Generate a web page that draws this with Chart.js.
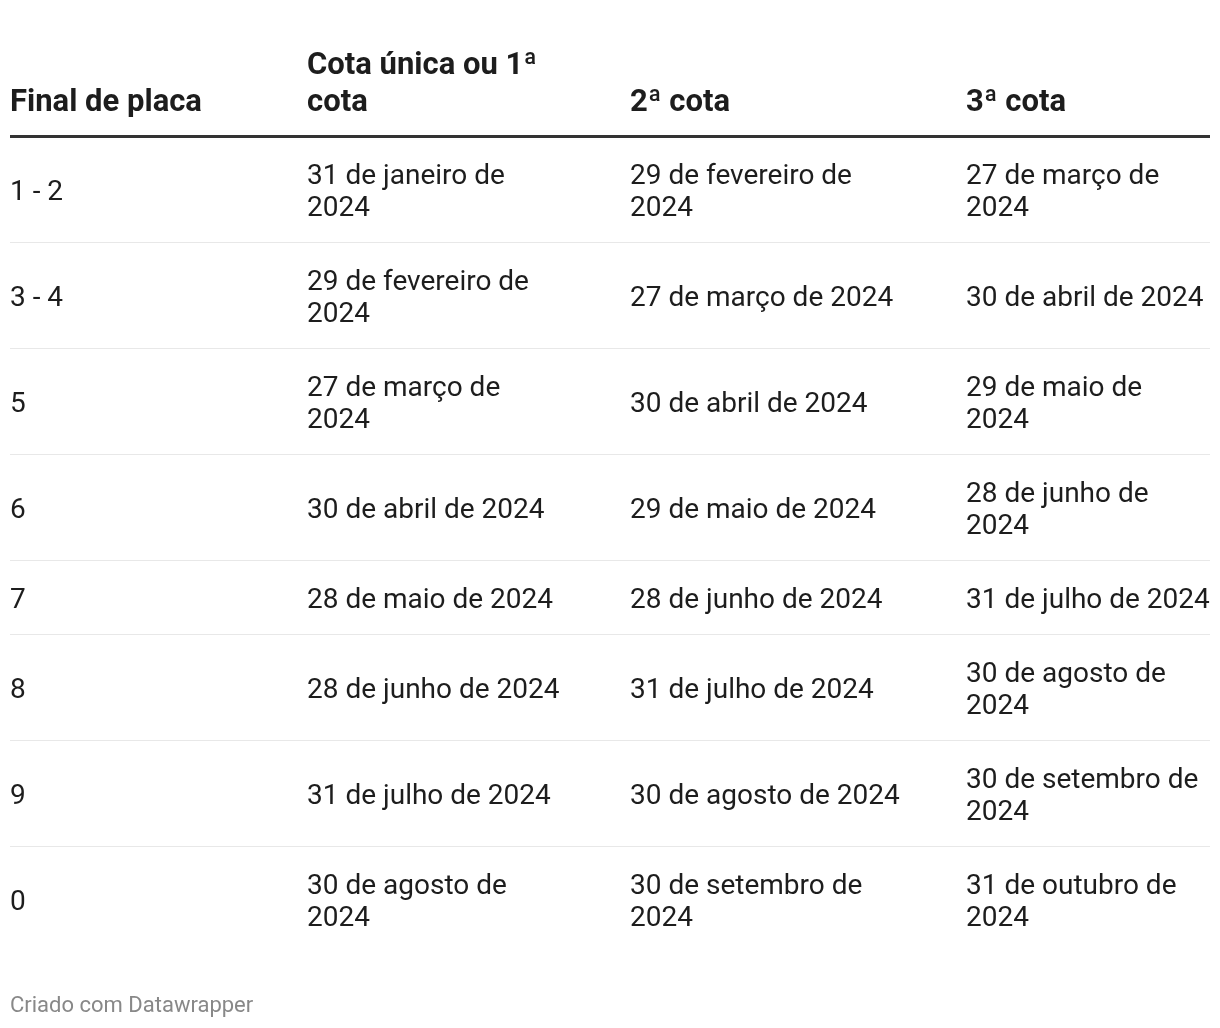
<!DOCTYPE html>
<html><head><meta charset="utf-8">
<script src="https://cdn.jsdelivr.net/npm/chart.js@4"></script>
<style>html,body{margin:0;padding:0;background:#fff}#wrap{width:1220px;height:1028px;position:relative}canvas{display:block}</style>
</head><body><div id="wrap"><canvas id="c" width="1220" height="1028"></canvas></div>
<script>
// ---- data ----
const headers = ["Final de placa", "Cota única ou 1ª cota", "2ª cota", "3ª cota"];
const placas = ["1 - 2", "3 - 4", "5", "6", "7", "8", "9", "0"];
const cota1 = ["31 de janeiro de 2024", "29 de fevereiro de 2024", "27 de março de 2024", "30 de abril de 2024", "28 de maio de 2024", "28 de junho de 2024", "31 de julho de 2024", "30 de agosto de 2024"];
const cota2 = ["29 de fevereiro de 2024", "27 de março de 2024", "30 de abril de 2024", "29 de maio de 2024", "28 de junho de 2024", "31 de julho de 2024", "30 de agosto de 2024", "30 de setembro de 2024"];
const cota3 = ["27 de março de 2024", "30 de abril de 2024", "29 de maio de 2024", "28 de junho de 2024", "31 de julho de 2024", "30 de agosto de 2024", "30 de setembro de 2024", "31 de outubro de 2024"];
const footerText = "Criado com Datawrapper";

// ---- layout / style ----
const columns = [placas, cota1, cota2, cota3];
const colStart = [0, 297, 620, 956];      // table-width units (0..1200)
const colWrap = [280, 258, 290, 244.5];   // max text width per column
const BODY_FONT = "28px Roboto";
const HEAD_FONT = "bold 31px Roboto";
const LINE_H = 32, ROW_PAD = 42, HEAD_LINE_H = 37;
const TEXT_COLOR = "#1d1d1d";

function wrap(ctx, text, maxW) {
  const words = text.split(" ");
  const lines = [];
  let cur = "";
  for (const w of words) {
    const t = cur ? cur + " " + w : w;
    if (cur && ctx.measureText(t).width > maxW) { lines.push(cur); cur = w; }
    else cur = t;
  }
  if (cur) lines.push(cur);
  return lines;
}

function build() {
  const mctx = document.createElement("canvas").getContext("2d");
  mctx.font = BODY_FONT;
  const wrapped = columns.map((col, c) => col.map(t => wrap(mctx, t, colWrap[c])));
  mctx.font = HEAD_FONT;
  const headWrapped = headers.map((h, c) => wrap(mctx, h, colWrap[c]));

  const rowLines = placas.map((_, r) => Math.max(...wrapped.map(col => col[r].length)));
  const bounds = [0];
  rowLines.forEach(n => bounds.push(bounds[bounds.length - 1] + n * LINE_H + ROW_PAD));
  const centers = rowLines.map((_, r) => (bounds[r] + bounds[r + 1]) / 2);
  const total = bounds[bounds.length - 1];

  const datasets = columns.map((col, c) => ({
    label: headers[c],
    data: centers.map(y => ({ x: colStart[c], y })),
    pointRadius: 0, pointHoverRadius: 0, showLine: false
  }));

  const tablePlugin = {
    id: "tableText",
    afterDatasetsDraw(chart) {
      const ctx = chart.ctx;
      ctx.save();
      ctx.fillStyle = TEXT_COLOR;
      ctx.textAlign = "left";
      ctx.textBaseline = "middle";
      ctx.font = BODY_FONT;
      chart.data.datasets.forEach((ds, c) => {
        chart.getDatasetMeta(c).data.forEach((el, r) => {
          const lines = wrapped[c][r];
          const y0 = el.y - (lines.length - 1) * LINE_H / 2 + 4;
          lines.forEach((ln, i) => ctx.fillText(ln, el.x, y0 + i * LINE_H));
        });
      });
      // header
      const xs = chart.scales.x;
      const top = chart.chartArea.top;
      ctx.font = HEAD_FONT;
      headWrapped.forEach((lines, c) => {
        const x = xs.getPixelForValue(colStart[c]);
        const yLast = top - 33;
        lines.forEach((ln, i) => ctx.fillText(ln, x, yLast - (lines.length - 1 - i) * HEAD_LINE_H));
      });
      // footer
      ctx.font = "22px Roboto";
      ctx.fillStyle = "#888888";
      ctx.fillText(footerText, xs.getPixelForValue(0), 1006);
      ctx.restore();
    }
  };

  new Chart(document.getElementById("c"), {
    type: "scatter",
    data: { datasets },
    options: {
      responsive: false,
      animation: false,
      events: [],
      layout: { padding: { left: 10, right: 10, top: 136, bottom: 1028 - 136 - total } },
      plugins: { legend: { display: false }, tooltip: { enabled: false } },
      scales: {
        x: { type: "linear", min: 0, max: 1200, display: false },
        y: {
          type: "linear", min: 0, max: total, reverse: true,
          afterBuildTicks: s => { s.ticks = bounds.map(v => ({ value: v })); },
          ticks: { display: false },
          border: { display: false },
          grid: {
            drawTicks: false,
            color: ctx => ctx.index === 0 ? "#333333" : (ctx.index === bounds.length - 1 ? "rgba(0,0,0,0)" : "#e8e8e8"),
            lineWidth: ctx => ctx.index === 0 ? 3 : 1
          }
        }
      }
    },
    plugins: [tablePlugin]
  });
}

Promise.all([document.fonts.load(BODY_FONT), document.fonts.load(HEAD_FONT), document.fonts.load("22px Roboto")])
  .then(build, build);
</script>
</body></html>
